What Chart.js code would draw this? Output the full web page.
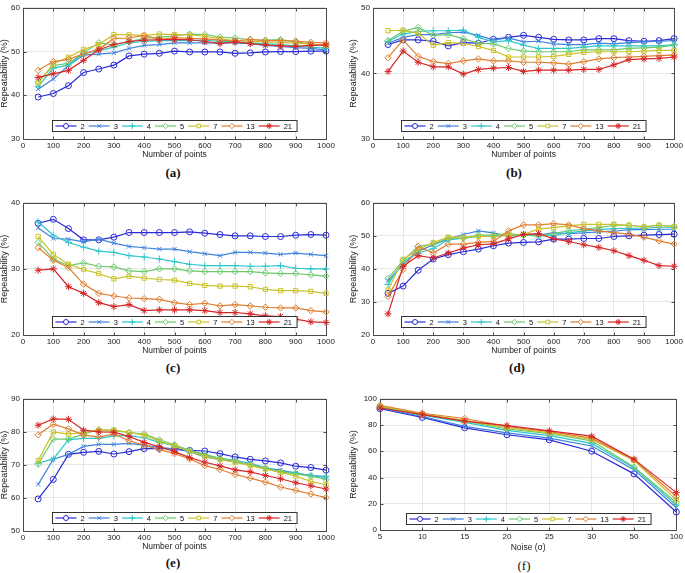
<!DOCTYPE html>
<html><head><meta charset="utf-8">
<script src="https://cdn.jsdelivr.net/npm/chart.js@4/dist/chart.umd.min.js"></script>
<style>
html,body{margin:0;padding:0;background:#fff;}
#fig{position:relative;width:685px;height:573px;overflow:hidden;background:#fff;}
canvas{position:absolute;}
.cap{position:absolute;font-family:'Liberation Serif','Times New Roman',serif;font-size:13px;color:#111;transform:translate(-50%,-50%);white-space:nowrap;}
.cap.b{font-weight:bold;}
</style></head><body>
<div id="fig">
<canvas id="cA"></canvas><canvas id="cB"></canvas><canvas id="cC"></canvas>
<canvas id="cD"></canvas><canvas id="cE"></canvas><canvas id="cF"></canvas>
<div class="cap b" style="left:173px;top:173px">(a)</div>
<div class="cap b" style="left:514px;top:173px">(b)</div>
<div class="cap b" style="left:173px;top:368px">(c)</div>
<div class="cap b" style="left:517px;top:368px">(d)</div>
<div class="cap b" style="left:173px;top:563px">(e)</div>
<div class="cap" style="left:524px;top:566px">(f)</div>
</div>
<script>
// ---------- data ----------
const xPoints = [50,100,150,200,250,300,350,400,450,500,550,600,650,700,750,800,850,900,950,1000];
const noiseLevels = ['5','10','15','20','25','30','50','100'];
const seriesNames = ['2','3','4','5','7','13','21'];

const A2  = [39.6,40.4,42.2,45.2,46.0,46.9,49.0,49.4,49.6,50.1,49.9,49.9,49.9,49.6,49.7,49.9,50.0,50.0,50.1,50.1];
const A3  = [41.4,43.7,46.8,49.2,49.4,49.7,50.7,51.4,51.6,52.0,52.0,52.0,52.0,52.0,51.8,51.4,51.2,50.9,50.7,50.4];
const A4  = [42.0,46.2,46.9,49.5,50.2,51.0,52.0,52.3,52.5,52.5,52.5,52.6,52.3,52.2,52.0,51.8,51.6,51.3,51.0,50.8];
const A5  = [43.0,46.8,47.3,49.7,52.0,51.5,52.3,53.0,53.3,53.6,54.0,53.9,53.3,53.1,52.7,52.6,52.7,52.2,51.7,51.3];
const A7  = [42.8,47.2,48.7,50.5,51.6,53.9,53.8,53.7,54.0,53.9,53.8,53.5,52.9,52.5,52.3,52.2,52.1,51.9,51.7,51.4];
const A13 = [45.7,47.7,48.2,49.5,50.5,53.0,53.1,53.7,52.8,53.2,53.0,52.9,52.6,52.4,52.8,52.5,52.5,52.4,52.1,52.0];
const A21 = [44.1,44.9,45.7,48.0,50.4,51.6,52.3,52.6,52.7,52.8,52.7,52.3,51.8,52.2,51.8,51.5,51.3,51.2,51.4,51.5];

const B2  = [44.4,45.1,45.1,44.9,44.2,44.7,44.6,45.2,45.5,45.8,45.5,45.2,45.1,45.1,45.3,45.3,45.0,44.9,45.0,45.3];
const B3  = [44.6,45.5,45.9,45.9,46.2,46.3,45.8,45.1,45.4,44.8,44.9,44.5,44.4,44.4,44.6,44.5,44.7,44.8,44.9,45.0];
const B4  = [44.9,46.0,46.4,46.5,46.5,46.6,45.5,44.8,45.0,44.3,43.8,43.8,43.8,44.0,44.2,44.2,44.2,44.2,44.2,44.4];
const B5  = [45.0,46.4,47.0,45.8,45.9,45.3,44.6,44.5,43.8,43.4,43.3,43.3,43.3,43.6,43.6,43.6,43.8,43.9,44.0,44.3];
const B7  = [46.5,46.6,46.1,44.3,44.7,44.6,44.1,43.5,42.5,42.5,42.5,42.6,42.9,43.2,43.3,43.3,43.3,43.4,43.5,43.5];
const B13 = [42.4,45.1,42.6,41.8,41.5,41.9,42.2,41.9,41.9,41.7,41.7,41.6,41.4,41.8,42.2,42.4,42.5,42.6,42.7,42.8];
const B21 = [40.3,43.4,41.7,41.0,41.0,39.9,40.6,40.8,40.9,40.3,40.5,40.5,40.5,40.6,40.6,41.3,42.1,42.2,42.3,42.5];

const C2  = [36.9,37.5,36.1,34.4,34.4,34.8,35.5,35.5,35.5,35.5,35.6,35.4,35.2,35.0,35.0,34.9,34.9,35.1,35.2,35.1];
const C3  = [36.2,34.6,34.5,34.1,34.5,33.9,33.4,33.2,33.0,33.0,32.6,32.3,32.0,32.5,32.5,32.4,32.2,32.4,32.2,32.0];
const C4  = [37.1,35.1,34.0,33.3,32.7,32.5,32.0,31.8,31.5,31.1,30.7,30.5,30.5,30.5,30.4,30.4,30.5,30.1,30.0,30.0];
const C5  = [34.0,31.5,30.5,30.9,30.4,30.3,29.7,29.6,30.0,30.0,29.7,29.6,29.6,29.6,29.6,29.4,29.3,29.3,29.1,28.9];
const C7  = [34.9,32.2,30.7,29.9,29.3,28.5,28.9,28.6,28.4,28.3,27.8,27.5,27.4,27.4,27.3,26.9,26.7,26.7,26.6,26.3];
const C13 = [33.2,31.3,30.2,27.7,26.3,25.9,25.6,25.5,25.4,24.9,24.6,24.8,24.4,24.6,24.4,24.2,24.1,24.1,23.7,23.5];
const C21 = [29.8,30.0,27.3,26.3,24.9,24.3,24.6,23.7,23.8,23.8,23.8,23.7,23.4,23.4,23.2,22.9,22.8,22.4,22.0,21.9];

const D2  = [32.6,34.8,39.6,43.0,44.3,45.2,46.0,47.0,47.8,48.0,48.2,49.0,49.0,49.2,49.2,49.8,50.0,50.2,50.4,50.5];
const D3  = [36.5,41.3,45.3,47.3,49.0,50.4,51.5,50.9,49.8,50.7,50.2,51.0,50.7,50.9,51.2,51.4,51.9,51.9,52.0,52.0];
const D4  = [35.3,42.3,44.8,46.1,48.8,49.3,49.8,50.0,50.1,50.3,50.0,50.1,50.9,51.5,51.9,52.2,52.3,52.3,52.6,52.6];
const D5  = [37.1,42.6,46.8,47.5,49.3,49.3,50.2,50.2,50.7,50.2,50.0,50.7,51.5,52.0,52.5,53.2,53.2,52.7,53.2,52.9];
const D7  = [33.6,42.9,45.8,48.0,49.6,49.6,49.8,49.8,50.3,50.4,52.1,52.5,53.0,53.5,53.5,53.5,53.2,52.7,53.2,52.7];
const D13 = [31.7,39.8,46.8,44.8,47.5,47.5,48.0,48.3,51.5,53.3,53.3,53.7,53.3,52.2,51.5,51.0,50.5,49.6,48.5,47.5];
const D21 = [26.4,40.8,44.0,43.3,44.8,46.3,47.3,47.6,49.1,50.4,50.7,49.1,48.3,47.3,46.5,45.5,44.0,42.6,41.0,40.8];

const E2  = [59.7,65.6,73.2,73.8,74.1,73.3,74.0,74.9,75.0,74.9,74.4,74.2,73.4,72.4,71.7,71.2,70.6,69.6,69.2,68.4];
const E3  = [64.1,71.7,73.2,75.6,76.2,76.2,76.5,75.9,75.3,74.8,74.0,72.4,71.6,71.0,70.0,69.0,68.4,67.5,66.8,66.2];
const E4  = [70.5,71.8,77.6,78.0,78.0,78.8,78.9,78.2,76.8,75.8,74.3,72.8,72.0,71.4,70.5,69.2,68.0,67.6,66.8,66.5];
const E5  = [70.2,77.8,77.8,79.3,80.7,80.3,79.8,79.4,77.6,76.1,74.4,73.2,72.0,71.2,70.0,69.0,67.8,67.3,66.6,65.6];
const E7  = [71.3,80.0,79.3,79.8,80.5,80.6,79.8,79.0,77.2,75.8,74.0,72.6,71.6,70.8,69.8,68.7,67.7,66.6,65.0,64.0];
const E13 = [79.1,82.3,80.9,79.0,78.4,79.4,77.3,76.0,74.6,73.4,71.8,69.8,68.6,67.1,66.0,64.8,63.3,62.3,61.2,60.1];
const E21 = [82.0,83.9,83.8,80.5,80.0,79.9,78.6,76.8,75.5,74.0,72.2,70.8,69.7,68.5,67.9,66.8,65.8,64.6,63.7,62.7];

const F2  = [92.5,85.8,77.9,72.6,68.7,60.0,42.8,13.7];
const F3  = [93.0,86.5,79.0,74.0,70.0,64.0,46.0,17.0];
const F4  = [93.5,87.5,82.0,76.0,72.0,66.0,47.5,19.0];
const F5  = [94.0,88.0,83.0,77.0,73.5,68.0,48.0,21.0];
const F7  = [94.5,88.5,83.5,78.0,74.0,69.0,53.0,23.0];
const F13 = [95.0,89.0,85.0,79.0,75.0,70.0,53.5,25.5];
const F21 = [93.0,88.0,83.0,79.5,75.5,71.5,54.0,28.5];

// ---------- styles ----------
const seriesColors = ['#2a2ad6','#3f82dc','#2ec6cc','#6cc96c','#cbc22a','#df7f2f','#d62626'];
const seriesMarkers = ['circle','crossRot','cross','rectRot','rect','rectRot','star'];
const seriesRadii = [3,3,3.5,3.2,3,3.2,3.5];
const FONT = "'Liberation Sans', Arial, Helvetica, sans-serif";
Chart.defaults.font.family = FONT;
Chart.defaults.color = '#222';

function drawMarker(ctx, style, r, x, y, color) {
  ctx.save();
  ctx.strokeStyle = color; ctx.fillStyle = 'rgba(255,255,255,1)'; ctx.lineWidth = 1;
  if (Chart.helpers && Chart.helpers.drawPoint) {
    Chart.helpers.drawPoint(ctx, {pointStyle: style, radius: r, rotation: 0, borderWidth: 1}, x, y);
  }
  ctx.restore();
}

const framePlugin = {
  id: 'frame',
  beforeDatasetsDraw(chart) {
    const {ctx, chartArea: a, scales} = chart;
    const l = Math.round(a.left) + 0.5, t = Math.round(a.top) + 0.5;
    const r = Math.round(a.right) + 0.5, b = Math.round(a.bottom) + 0.5;
    ctx.save();
    ctx.strokeStyle = '#4a4a4a'; ctx.lineWidth = 1;
    ctx.strokeRect(l, t, r - l, b - t);
    const tl = 3;
    ctx.beginPath();
    scales.x.ticks.forEach((tk, i) => {
      const px = Math.round(scales.x.getPixelForTick(i)) + 0.5;
      ctx.moveTo(px, b); ctx.lineTo(px, b - tl);
      ctx.moveTo(px, t); ctx.lineTo(px, t + tl);
    });
    scales.y.ticks.forEach((tk, i) => {
      const py = Math.round(scales.y.getPixelForTick(i)) + 0.5;
      ctx.moveTo(l, py); ctx.lineTo(l + tl, py);
      ctx.moveTo(r, py); ctx.lineTo(r - tl, py);
    });
    ctx.stroke();
    ctx.restore();
  },
  afterDraw(chart, args, opts) {
    const {ctx, chartArea: a} = chart;
    ctx.save();
    ctx.font = '7.5px ' + FONT;
    const lineLen = 21, g1 = 4, g2 = 4, start = 3;
    const widths = seriesNames.map(n => lineLen + g1 + ctx.measureText(n).width + g2);
    const total = start + widths.reduce((s, w) => s + w, 0) + 1;
    const h = 11;
    const bx = Math.round((a.left + a.right) / 2 - total / 2) + 0.5;
    const by = Math.round(a.bottom - opts.gap - h) + 0.5;
    ctx.fillStyle = '#fff';
    ctx.fillRect(bx, by, total, h);
    ctx.strokeStyle = '#333'; ctx.lineWidth = 1;
    ctx.strokeRect(bx, by, total, h);
    let x = bx + start;
    const cy = by + h / 2;
    seriesNames.forEach((n, i) => {
      ctx.strokeStyle = seriesColors[i]; ctx.lineWidth = 1.2;
      ctx.beginPath(); ctx.moveTo(x, cy); ctx.lineTo(x + lineLen, cy); ctx.stroke();
      drawMarker(ctx, seriesMarkers[i], seriesRadii[i] - 0.5, x + lineLen / 2, cy, seriesColors[i]);
      ctx.fillStyle = '#111'; ctx.textBaseline = 'middle'; ctx.textAlign = 'left';
      ctx.fillText(n, x + lineLen + g1, cy + 0.5);
      x += widths[i];
    });
    ctx.restore();
  }
};

function makePanel(cfg) {
  const cv = document.getElementById(cfg.id);
  cv.width = cfg.W; cv.height = cfg.H;
  cv.style.left = cfg.L + 'px'; cv.style.top = cfg.T + 'px';
  cv.style.width = cfg.W + 'px'; cv.style.height = cfg.H + 'px';
  const datasets = cfg.series.map((vals, i) => ({
    label: seriesNames[i],
    data: cfg.xs ? vals.map((v, j) => ({x: cfg.xs[j], y: v})) : vals,
    borderColor: seriesColors[i],
    backgroundColor: 'rgba(255,255,255,0)',
    pointBackgroundColor: 'rgba(255,255,255,0)',
    pointBorderColor: seriesColors[i],
    pointStyle: seriesMarkers[i],
    pointRadius: seriesRadii[i],
    pointBorderWidth: 1,
    borderWidth: 1.2,
    tension: 0,
    order: 6 - i,
    clip: 4
  }));
  const tickFont = {size: 8, lineHeight: 1.2};
  const plain = v => String(v);
  new Chart(cv, {
    type: 'line',
    data: {labels: cfg.labels, datasets},
    plugins: [framePlugin],
    options: {
      responsive: false, animation: false, devicePixelRatio: 1,
      events: [],
      layout: {autoPadding: false, padding: {left: 0, right: cfg.pr, top: cfg.pt, bottom: 0}},
      plugins: {legend: {display: false}, tooltip: {enabled: false}, frame: {gap: cfg.gap}},
      scales: {
        x: Object.assign({
          offset: false,
          grid: {color: '#e6e6e6', drawTicks: false, lineWidth: 1},
          border: {display: false},
          ticks: {padding: 2, maxRotation: 0, autoSkip: false, color: '#222', font: tickFont},
          title: {display: true, text: cfg.xTitle, color: '#222', font: {size: 8.5, lineHeight: 1.2}, padding: 0},
          afterFit: s => { s.height = cfg.xh; }
        }, cfg.xs ? {type: 'linear', min: 0, max: 1000, ticks: {stepSize: 100, padding: 2, maxRotation: 0, autoSkip: false, color: '#222', font: tickFont, callback: plain}} : {type: 'category'}),
        y: {
          min: cfg.ymin, max: cfg.ymax,
          grid: {color: '#e6e6e6', drawTicks: false, lineWidth: 1},
          border: {display: false},
          ticks: {stepSize: cfg.ystep, padding: 3, color: '#222', font: tickFont, callback: plain},
          title: {display: true, text: 'Repeatability (%)', color: '#222', font: {size: 9, lineHeight: 1}, padding: 0},
          afterFit: s => { s.width = cfg.yw; }
        }
      }
    }
  });
}

const ptsTitle = 'Number of points';
makePanel({id:'cA', L:0,   T:0,   W:338, H:160, yw:23, xh:21, pr:12, pt:5, gap:8, xs:xPoints, xTitle:ptsTitle, ymin:30, ymax:60, ystep:10, series:[A2,A3,A4,A5,A7,A13,A21]});
makePanel({id:'cB', L:349, T:0,   W:336, H:160, yw:24, xh:21, pr:10, pt:5, gap:8, xs:xPoints, xTitle:ptsTitle, ymin:30, ymax:50, ystep:10, series:[B2,B3,B4,B5,B7,B13,B21]});
makePanel({id:'cC', L:0,   T:195, W:338, H:161, yw:23, xh:21, pr:12, pt:6, gap:8, xs:xPoints, xTitle:ptsTitle, ymin:20, ymax:40, ystep:10, series:[C2,C3,C4,C5,C7,C13,C21]});
makePanel({id:'cD', L:349, T:195, W:336, H:161, yw:24, xh:21, pr:10, pt:6, gap:8, xs:xPoints, xTitle:ptsTitle, ymin:20, ymax:60, ystep:10, series:[D2,D3,D4,D5,D7,D13,D21]});
makePanel({id:'cE', L:0,   T:391, W:338, H:161, yw:23, xh:21, pr:12, pt:6, gap:8, xs:xPoints, xTitle:ptsTitle, ymin:50, ymax:90, ystep:10, series:[E2,E3,E4,E5,E7,E13,E21]});
makePanel({id:'cF', L:349, T:391, W:336, H:162, yw:31, xh:23, pr:8,  pt:6, gap:6, xs:null, labels:noiseLevels, xTitle:'Noise (σ)', ymin:0, ymax:100, ystep:20, series:[F2,F3,F4,F5,F7,F13,F21]});
</script>
</body></html>
